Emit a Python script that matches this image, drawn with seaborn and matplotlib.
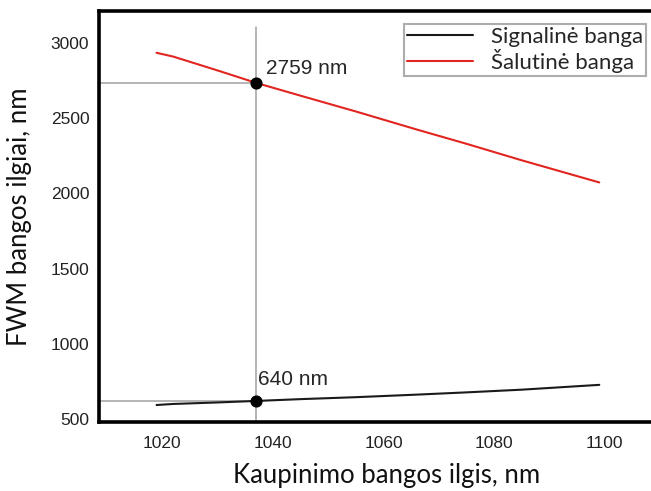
import numpy as np
import pandas as pd
import matplotlib
matplotlib.use("Agg")
import matplotlib.pyplot as plt
import seaborn as sns

# values
pump_nm = [1019, 1022, 1030, 1037, 1045, 1055, 1066, 1075, 1085, 1099]
signal_nm = [593, 600, 610, 620, 632, 645, 662, 677, 695, 727]
idler_nm = [2935, 2910, 2818, 2735, 2650, 2545, 2425, 2330, 2220, 2073]

mark_x = 1037
mark_signal = 620
mark_idler = 2735
label_signal = "640 nm"
label_idler = "2759 nm"

x_ticks = [1020, 1040, 1060, 1080, 1100]
y_ticks = [500, 1000, 1500, 2000, 2500, 3000]

df = pd.DataFrame({
    "pump": pump_nm * 2,
    "wl": signal_nm + idler_nm,
    "series": ["Signalinė banga"] * len(pump_nm) + ["Šalutinė banga"] * len(pump_nm),
})

sns.set_style("white")
plt.rcParams["font.family"] = ["Liberation Sans", "DejaVu Sans"]

fig = plt.figure(figsize=(6.51, 4.91), dpi=100)
# axes run past the right edge of the picture, as in the reference
ax = fig.add_axes([99 / 651, 69 / 491, 601 / 651, 411 / 491])

sns.lineplot(data=df, x="pump", y="wl", hue="series",
             palette={"Signalinė banga": "#1a1a1a", "Šalutinė banga": "#e0261f"},
             linewidth=1.5, ax=ax)

xmin, xmax = 1008.6, 1117.2
ymin, ymax = 480, 3213
ax.set_xlim(xmin, xmax)
ax.set_ylim(ymin, ymax)

# guide lines
grey = "#a0a0a0"
ax.plot([xmin, mark_x], [mark_idler, mark_idler], color=grey, lw=1.1, zorder=1)
ax.plot([xmin, mark_x], [mark_signal, mark_signal], color=grey, lw=1.1, zorder=1)
ax.plot([mark_x, mark_x], [ymin, 3107], color=grey, lw=1.1, zorder=1)

ax.scatter([mark_x, mark_x], [mark_idler, mark_signal], s=60, color="black", zorder=5)
ax.text(mark_x + 1.8, mark_idler + 35, label_idler, fontsize=15, va="bottom", ha="left")
ax.text(mark_x + 0.4, mark_signal + 80, label_signal, fontsize=15, va="bottom", ha="left")

ax.set_xticks(x_ticks)
ax.set_yticks(y_ticks)
ax.tick_params(axis="both", length=0, labelsize=12.5, colors="#222222")
ax.tick_params(axis="x", pad=10)
ax.tick_params(axis="y", pad=7)

for s in ["left", "top", "bottom"]:
    ax.spines[s].set_linewidth(2.6)
    ax.spines[s].set_color("black")
ax.spines["right"].set_visible(False)

ax.set_xlabel("Kaupinimo bangos ilgis, nm", fontsize=18.5, family=["Lato", "DejaVu Sans"],
              color="#111111", va="center")
ax.set_ylabel("FWM bangos ilgiai, nm", fontsize=18.5, family=["Lato", "DejaVu Sans"],
              color="#111111", va="center")
ax.xaxis.set_label_coords((387 - 99) / 601, -(476 - 422) / 411)
ax.yaxis.set_label_coords(-(99 - 20) / 601, (422 - 217) / 411)

leg = ax.legend(loc="upper right", bbox_to_anchor=(646 / 651, 1 - 24 / 491),
                bbox_transform=fig.transFigure, frameon=True, fancybox=False,
                prop={"family": ["Lato", "DejaVu Sans"], "size": 16},
                handlelength=3.0, handletextpad=0.8, borderpad=0.12,
                labelspacing=0.1, borderaxespad=0)
leg.get_frame().set_edgecolor("#999999")
leg.get_frame().set_linewidth(1.5)

fig.savefig("out.png", dpi=100)
